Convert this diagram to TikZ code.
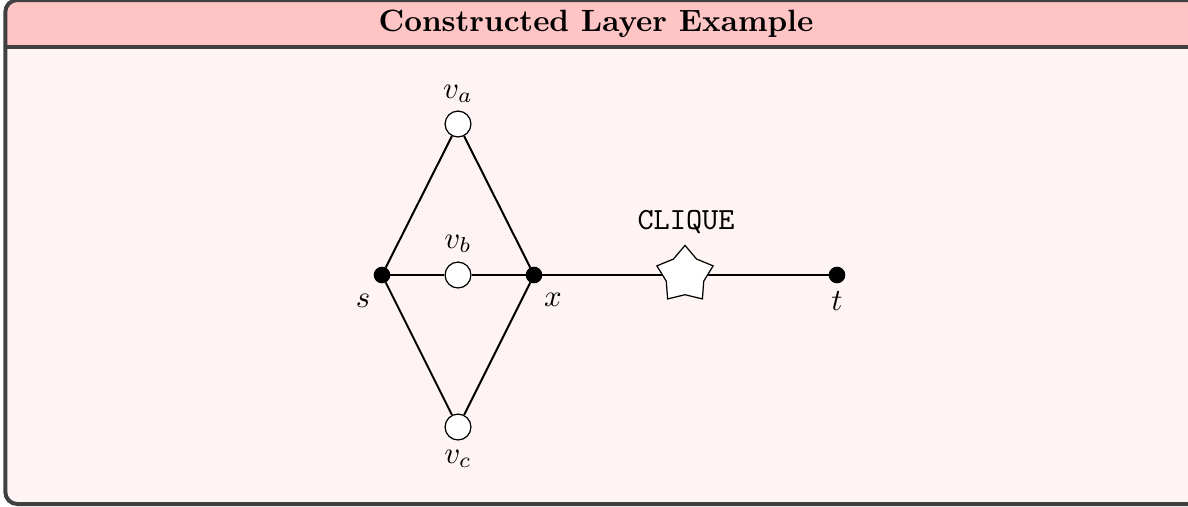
\documentclass[tikz,border=0pt]{standalone}
\usetikzlibrary{shapes.geometric}
\definecolor{framegray}{HTML}{404040}
\definecolor{titlepink}{HTML}{FFC4C4}
\definecolor{bodypink}{HTML}{FFF4F4}
\tikzset{
  blackdot/.style={circle,fill=black,draw=black,inner sep=0pt,minimum size=5pt},
  whitedot/.style={circle,fill=white,draw=black,line width=0.4pt,inner sep=0pt,minimum size=8.4pt},
  cliquestar/.style={star,star points=5,fill=white,draw=black,line width=0.4pt,inner sep=0pt,minimum size=19.2pt},
  edge/.style={line width=0.65pt},
  lbl/.style={inner sep=0pt}
}
\begin{document}
\begin{tikzpicture}[x=0.3247pt,y=-0.3247pt]
\useasboundingbox (0,0) rectangle (1188,506);
\begin{scope}
\clip (0,0) rectangle (1188,506);
% body and title
\fill[bodypink,rounded corners=12*0.3247pt] (5.3,-20) rectangle (1210,504);
\fill[titlepink,rounded corners=12*0.3247pt] (5.3,0) rectangle (1210,60);
\fill[bodypink] (5.3,47) rectangle (1210,100);
\draw[framegray,line width=1.3pt,rounded corners=12*0.3247pt] (5.3,0) rectangle (1210,504);
\draw[framegray,line width=1.3pt] (5.3,47) -- (1210,47);
\end{scope}
\node[lbl] (title) at (596,24) {\textbf{Constructed Layer Example}};
% graph
\node[blackdot] (s) at (382,275) {};
\node[blackdot] (x) at (534,275) {};
\node[blackdot] (t) at (837,275) {};
\node[whitedot] (va) at (458,124) {};
\node[whitedot] (vb) at (458,275) {};
\node[whitedot] (vc) at (458,427) {};
\node[cliquestar] (k) at (685,275) {};
\draw[edge] (s) -- (va) -- (x);
\draw[edge] (s) -- (vb) -- (x);
\draw[edge] (s) -- (vc) -- (x);
\draw[edge] (x) -- (k) -- (t);
\node[lbl] (ls) at (363,301) {$s$};
\node[lbl] (lx) at (553,300) {$x$};
\node[lbl] (lt) at (837,301) {$t$};
\node[lbl] (lva) at (458,94) {$v_a$};
\node[lbl] (lvb) at (458,244) {$v_b$};
\node[lbl] (lvc) at (458,459) {$v_c$};
\node[lbl] (lk) at (686,222) {\texttt{CLIQUE}};
\end{tikzpicture}
\end{document}
